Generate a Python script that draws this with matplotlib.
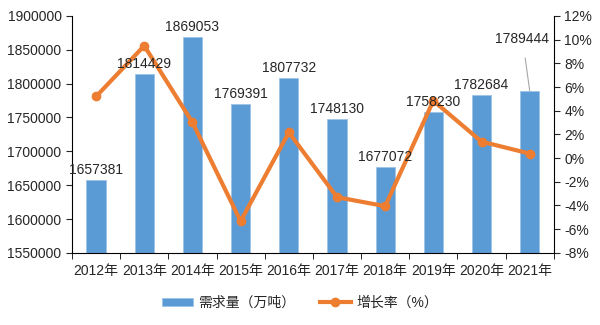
import matplotlib.pyplot as plt
import numpy as np

plt.rcParams['font.family'] = ['Liberation Sans', 'Noto Sans CJK SC', 'DejaVu Sans']

years = ['2012年', '2013年', '2014年', '2015年', '2016年', '2017年', '2018年', '2019年', '2020年', '2021年']
demand = [1657381, 1814429, 1869053, 1769391, 1807732, 1748130, 1677072, 1758230, 1782684, 1789444]
growth = [5.2, 9.48, 3.01, -5.33, 2.17, -3.30, -4.06, 4.84, 1.39, 0.38]

bar_color = '#5B9BD5'
line_color = '#ED7D31'
text_color = '#262626'

fig = plt.figure(figsize=(6, 3.25), dpi=100)
ax = fig.add_axes([0.12, 0.222, 0.803, 0.729])
x = np.arange(len(years))

ax.bar(x, demand, width=0.4, color=bar_color, edgecolor='#9DC3E6', linewidth=0.6,
       label='需求量（万吨）', zorder=2)
ax.set_ylim(1550000, 1900000)
yt = np.arange(1550000, 1900001, 50000)
ax.set_yticks(yt)
ax.set_yticklabels([str(v) for v in yt])
ax.set_xlim(-0.5, len(years) - 0.5)
ax.set_xticks(x)
ax.set_xticklabels(years)
ax.set_xticks(np.arange(-0.5, len(years)), minor=True)
ax.tick_params(axis='x', which='major', length=0, pad=8, labelsize=10, colors=text_color)
ax.tick_params(axis='x', which='minor', length=4, direction='out', color='black')
ax.tick_params(axis='y', length=4, direction='out', labelsize=10, colors=text_color)
for s in ['top', 'right']:
    ax.spines[s].set_visible(False)
ax.spines['left'].set_color('black')
ax.spines['bottom'].set_color('black')

ax2 = ax.twinx()
ax2.plot(x, growth, color=line_color, linewidth=3, marker='o', markersize=6,
         label='增长率（%）', zorder=3)
ax2.set_ylim(-8, 12)
rt = np.arange(-8, 12.1, 2)
ax2.set_yticks(rt)
ax2.set_yticklabels([f'{int(t)}%' for t in rt])
ax2.tick_params(axis='y', length=4, direction='out', labelsize=10, colors=text_color)
for s in ['top', 'left', 'bottom']:
    ax2.spines[s].set_visible(False)
ax2.spines['right'].set_color('black')

# data labels drawn above the line
for i, v in enumerate(demand):
    if i == len(demand) - 1:
        ax2.annotate(str(v), xy=(i, v), xycoords=ax.transData,
                     xytext=(i - 0.15, v + 77000), textcoords=ax.transData,
                     ha='center', va='center', fontsize=10, color=text_color, zorder=5,
                     arrowprops=dict(arrowstyle='-', color='#A6A6A6', lw=0.8, shrinkA=7, shrinkB=0))
    else:
        ax2.text(i, v + 15000, str(v), transform=ax.transData, ha='center', va='center',
                 fontsize=10, color=text_color, zorder=5)

h1, l1 = ax.get_legend_handles_labels()
h2, l2 = ax2.get_legend_handles_labels()
fig.legend(h1 + h2, l1 + l2, loc='center', bbox_to_anchor=(0.5, 0.068), ncol=2, frameon=False,
           fontsize=10, handlelength=2.2, handleheight=0.5, handletextpad=0.4, columnspacing=1.8,
           labelcolor=text_color)

fig.savefig('out.png', dpi=100)
